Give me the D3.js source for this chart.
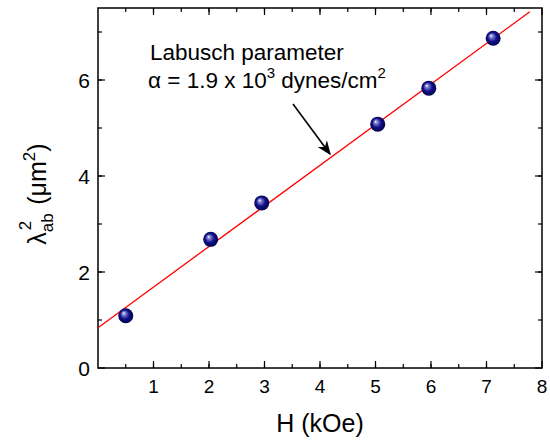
<!DOCTYPE html>
<html>
<head>
<meta charset="UTF-8">
<title>Labusch parameter</title>
<script src="https://d3js.org/d3.v7.min.js"></script>
<style>
  body { margin: 0; background: #fff; }
  text { font-family: "Liberation Sans", Arial, sans-serif; fill: #000; }
</style>
</head>
<body>
<div id="chart"></div>
<script>
// measured points (H in kOe, lambda_ab^2 in um^2)
var fieldH = [0.5, 2.03, 2.95, 5.04, 5.96, 7.12];
var lambda2 = [1.09, 2.68, 3.44, 5.08, 5.83, 6.87];
// linear fit end points
var fitX = [0, 7.78];
var fitY = [0.84, 7.42];
var xTicks = [1, 2, 3, 4, 5, 6, 7, 8];
var yTicks = [0, 2, 4, 6];

var W = 550, H = 440;
var m = {left: 98, right: 8, top: 8, bottom: 72};

var svg = d3.select("#chart").append("svg")
    .attr("width", W).attr("height", H);

var x = d3.scaleLinear().domain([0, 8]).range([m.left, W - m.right]);
var y = d3.scaleLinear().domain([0, 7.5]).range([H - m.bottom, m.top]);

// sphere look for the markers
var defs = svg.append("defs");
var grad = defs.append("radialGradient").attr("id", "ball")
    .attr("cx", "50%").attr("cy", "50%").attr("r", "55%")
    .attr("fx", "35%").attr("fy", "32%");
grad.append("stop").attr("offset", "0%").attr("stop-color", "#ffffff");
grad.append("stop").attr("offset", "18%").attr("stop-color", "#8a8ad8");
grad.append("stop").attr("offset", "55%").attr("stop-color", "#10108a");
grad.append("stop").attr("offset", "100%").attr("stop-color", "#000040");

defs.append("marker").attr("id", "arrow")
    .attr("viewBox", "0 0 10 10").attr("refX", 9).attr("refY", 5)
    .attr("markerWidth", 9).attr("markerHeight", 9)
    .attr("orient", "auto")
  .append("path").attr("d", "M0,1 L10,5 L0,9 L3,5 Z").attr("fill", "#000");

var ph = H - m.bottom - m.top;
var pw = W - m.right - m.left;

// axes (ticks inward), mirrored on top/right
var xMinor = d3.range(0.5, 8, 0.5);
var yMinor = d3.range(1, 7.5, 1);

function tickLines(g, vals, len, orient) {
  g.selectAll(null).data(vals).enter().append("line")
    .attr("stroke", "#000").attr("stroke-width", 1.2)
    .attr("x1", function(d){ return orient == "x" ? x(d) : 0; })
    .attr("x2", function(d){ return orient == "x" ? x(d) : len; })
    .attr("y1", function(d){ return orient == "x" ? 0 : y(d); })
    .attr("y2", function(d){ return orient == "x" ? -len : y(d); });
}

var gx = svg.append("g").attr("transform", "translate(0," + (H - m.bottom) + ")");
tickLines(gx, xMinor, 4, "x");
tickLines(gx, xTicks, 7, "x");
var gxt = svg.append("g").attr("transform", "translate(0," + m.top + ") scale(1,-1)");
tickLines(gxt, xMinor, 4, "x");
tickLines(gxt, xTicks, 7, "x");

var gy = svg.append("g").attr("transform", "translate(" + m.left + ",0)");
tickLines(gy, yMinor, 4, "y");
tickLines(gy, yTicks, 7, "y");
var gyr = svg.append("g").attr("transform", "translate(" + (W - m.right) + ",0) scale(-1,1)");
tickLines(gyr, yMinor, 4, "y");
tickLines(gyr, yTicks, 7, "y");

svg.append("rect")
    .attr("x", m.left).attr("y", m.top).attr("width", pw).attr("height", ph)
    .attr("fill", "none").attr("stroke", "#000").attr("stroke-width", 1.5);

// tick labels
svg.selectAll(".xl").data(xTicks).enter().append("text")
    .attr("x", function(d){ return x(d); })
    .attr("y", H - m.bottom + 25)
    .attr("text-anchor", "middle").style("font-size", "19px")
    .text(function(d){ return d; });

svg.selectAll(".yl").data(yTicks).enter().append("text")
    .attr("x", m.left - 8)
    .attr("y", function(d){ return y(d) + 7.5; })
    .attr("text-anchor", "end").style("font-size", "21px")
    .text(function(d){ return d; });

// axis titles
svg.append("text")
    .attr("x", 320).attr("y", 432)
    .attr("text-anchor", "middle").style("font-size", "25px")
    .text("H (kOe)");

var yt = svg.append("text")
    .attr("transform", "translate(46,194) rotate(-90)")
    .attr("text-anchor", "middle").style("font-size", "25px");
yt.append("tspan").text("\u03bb");
yt.append("tspan").attr("dy", 7).style("font-size", "17px").text("ab");
yt.append("tspan").attr("dx", -17).attr("dy", -22).style("font-size", "17px").text("2");
yt.append("tspan").attr("dx", 16).attr("dy", 15).text("(\u03bcm");
yt.append("tspan").attr("dy", -11).style("font-size", "17px").text("2");
yt.append("tspan").attr("dy", 11).text(")");

// fit line
svg.append("line")
    .attr("x1", x(fitX[0])).attr("y1", y(fitY[0]))
    .attr("x2", x(fitX[1])).attr("y2", y(fitY[1]))
    .attr("stroke", "#ff0000").attr("stroke-width", 1.3);

// data points
svg.selectAll(".pt").data(fieldH).enter().append("circle")
    .attr("cx", function(d){ return x(d); })
    .attr("cy", function(d, i){ return y(lambda2[i]); })
    .attr("r", 7.5)
    .attr("fill", "url(#ball)");

// annotation
svg.append("text").attr("x", 150).attr("y", 60)
    .style("font-size", "22.5px").text("Labusch parameter");
var a2 = svg.append("text").attr("x", 148).attr("y", 88).style("font-size", "22.5px");
a2.append("tspan").text("\u03b1 = 1.9 x 10");
a2.append("tspan").attr("dy", -10).style("font-size", "15px").text("3");
a2.append("tspan").attr("dy", 10).text(" dynes/cm");
a2.append("tspan").attr("dy", -10).style("font-size", "15px").text("2");

svg.append("line")
    .attr("x1", 293).attr("y1", 104).attr("x2", 330).attr("y2", 154)
    .attr("stroke", "#000").attr("stroke-width", 1.6)
    .attr("marker-end", "url(#arrow)");
</script>
</body>
</html>
